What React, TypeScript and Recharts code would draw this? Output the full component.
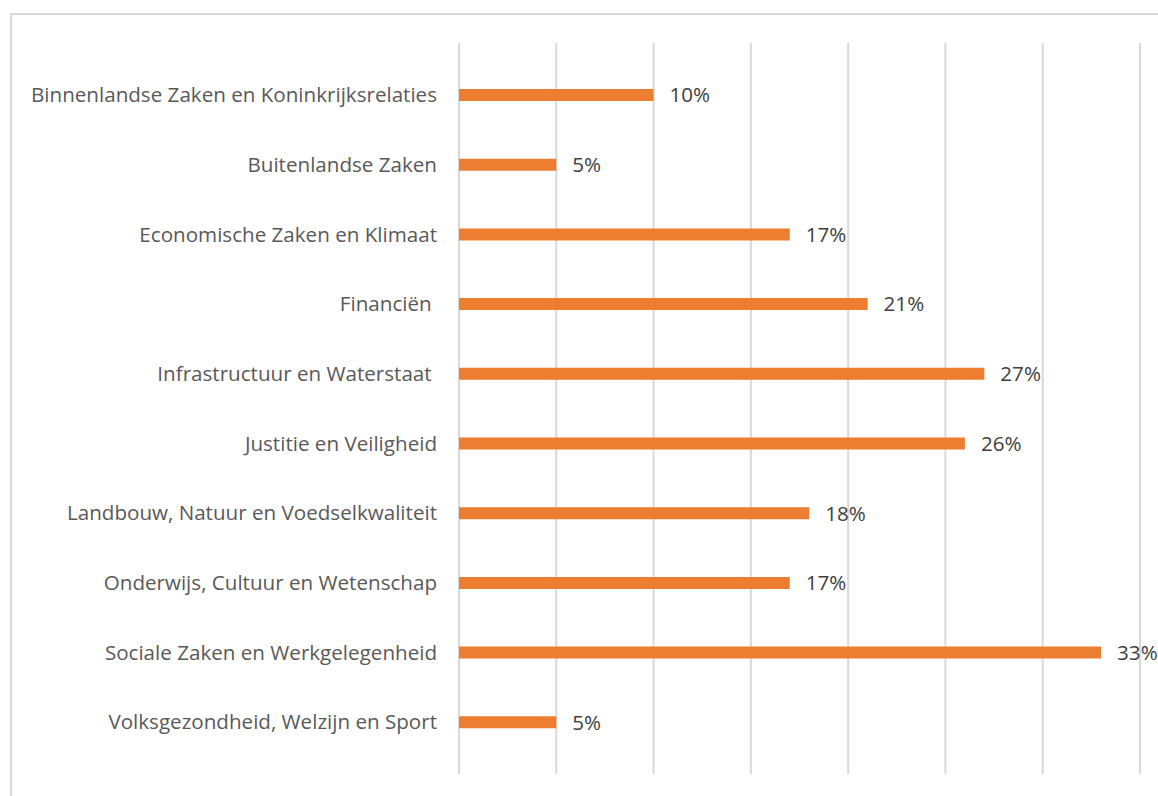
import React from "react";
import { BarChart, Bar, XAxis, YAxis, CartesianGrid, LabelList } from "recharts";

const categories = [
  "Binnenlandse Zaken en Koninkrijksrelaties",
  "Buitenlandse Zaken",
  "Economische Zaken en Klimaat",
  "Financiën\u00A0",
  "Infrastructuur en Waterstaat\u00A0",
  "Justitie en Veiligheid",
  "Landbouw, Natuur en Voedselkwaliteit",
  "Onderwijs, Cultuur en Wetenschap",
  "Sociale Zaken en Werkgelegenheid",
  "Volksgezondheid, Welzijn en Sport",
];
const values = [10, 5, 17, 21, 27, 26, 18, 17, 33, 5];
const xTicks = [0, 5, 10, 15, 20, 25, 30, 35];

const data = categories.map((name, i) => ({ name, value: values[i] }));

const FONT = "'Open Sans', 'Noto Sans', sans-serif";

export default function App() {
  return (
    <div style={{ position: "absolute", left: 0, top: 0, width: 1158, height: 796, background: "#fff", overflow: "hidden" }}>
      <div
        style={{
          position: "absolute",
          left: 10,
          top: 13,
          width: 1200,
          height: 820,
          border: "2px solid #d9d9d9",
          boxSizing: "border-box",
        }}
      />
      <div style={{ position: "absolute", left: 0, top: 0 }}>
        <BarChart
          width={1158}
          height={796}
          data={data}
          layout="vertical"
          margin={{ top: 43, right: 18, bottom: 22, left: 0 }}
        >
          <CartesianGrid horizontal={false} stroke="#d9d9d9" strokeWidth={2} />
          <XAxis type="number" domain={[0, 35]} ticks={xTicks} hide />
          <YAxis
            type="category"
            dataKey="name"
            width={459}
            axisLine={false}
            tickLine={false}
            tickMargin={16}
            padding={{ top: 17, bottom: 17 }}
            interval={0}
            tick={{ fill: "#595959", fontSize: 20.6, fontFamily: FONT }}
          />
          <Bar dataKey="value" fill="#ED7D31" barSize={12} isAnimationActive={false}>
            <LabelList
              dataKey="value"
              position="right"
              offset={16}
              formatter={(v: number) => `${v}%`}
              style={{ fill: "#404040", fontSize: 20.6, fontFamily: FONT }}
            />
          </Bar>
        </BarChart>
      </div>
    </div>
  );
}
